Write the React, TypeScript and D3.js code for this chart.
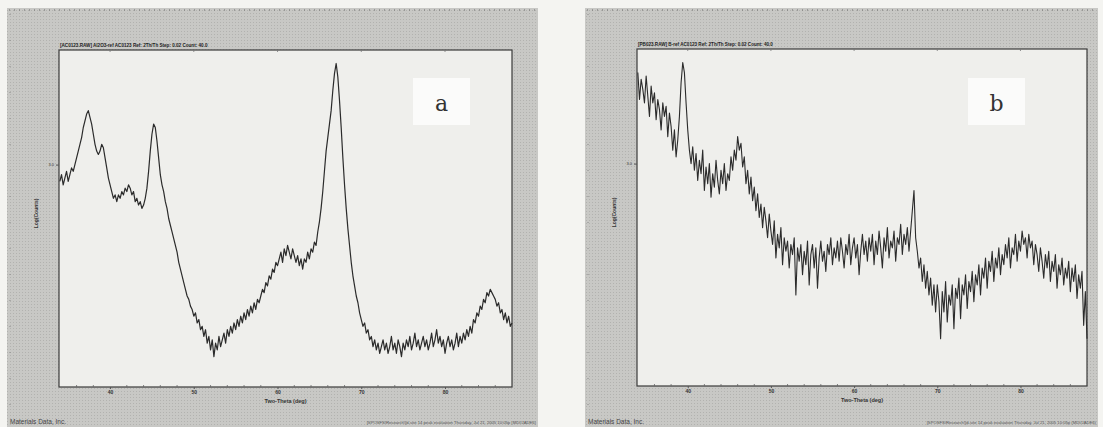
import * as d3 from "d3";
import { useEffect, useRef } from "react";

// scan grid (deg 2-theta)
const scanStart = 34.0;
const scanStep = 0.2;
const xTickValues = [40, 50, 60, 70, 80];
const xMinorTicks = [36, 38, 42, 44, 46, 48, 52, 54, 56, 58, 62, 64, 66, 68, 72, 74, 76, 78, 82, 84, 86];
const yTickValues = [66];
const yTickLabels = ["3.0"];

// sample a (relative log counts)
const countsA = [
  61, 63, 60, 62, 64, 61, 63, 65, 64, 66, 68, 70, 72, 74, 77, 79, 81, 82, 80, 78,
  75, 72, 70, 69, 70, 72, 71, 68, 65, 62, 60, 58, 56, 57, 55, 57, 56, 58, 57, 59,
  58, 60, 59, 57, 58, 55, 56, 54, 55, 53, 54, 56, 59, 64, 70, 75, 78, 77, 73, 68,
  63, 60, 58, 55, 53, 50, 48, 46, 44, 42, 40, 37, 35, 33, 31, 29, 27, 26, 24, 23,
  21, 22, 19, 20, 17, 18, 15, 17, 13, 15, 11, 14, 9, 13, 11, 15, 12, 14, 16, 13,
  17, 15, 18, 16, 19, 17, 20, 18, 21, 19, 22, 20, 23, 21, 24, 22, 25, 23, 26, 25,
  27, 29, 28, 31, 30, 33, 32, 35, 34, 37, 36, 38, 40, 37, 41, 39, 42, 40, 38, 41,
  39, 37, 39, 36, 38, 35, 38, 37, 40, 38, 41, 40, 43, 42, 46, 49, 53, 58, 64, 70,
  74, 78, 82, 88, 93, 96, 92, 85, 77, 68, 60, 53, 47, 42, 37, 33, 30, 27, 25, 22,
  20, 18, 19, 16, 17, 14, 15, 12, 14, 11, 13, 10, 12, 14, 11, 13, 10, 12, 15, 11,
  13, 10, 14, 12, 9, 13, 11, 14, 12, 15, 11, 13, 16, 12, 14, 11, 13, 15, 12, 14,
  11, 13, 16, 12, 14, 17, 13, 15, 12, 14, 10, 13, 15, 12, 14, 11, 13, 16, 12, 15,
  13, 16, 14, 17, 15, 18, 16, 20, 19, 22, 21, 24, 23, 26, 25, 28, 27, 29, 28, 27,
  26, 24, 25, 22, 23, 20, 22, 19, 21, 18, 19,
];

// sample b
const countsB = [
  93, 85, 91, 88, 84, 92, 86, 80, 89, 84, 87, 79, 85, 82, 76, 84, 80, 83, 74, 81,
  77, 70, 76, 68, 73, 80, 90, 96, 93, 84, 76, 70, 66, 71, 64, 69, 61, 67, 63, 70,
  58, 65, 60, 66, 56, 63, 59, 67, 61, 57, 64, 60, 66, 58, 63, 61, 68, 64, 70, 67,
  74, 70, 72, 65, 68, 60, 64, 57, 62, 55, 59, 52, 57, 50, 54, 47, 53, 49, 44, 51,
  46, 42, 49, 38, 45, 41, 47, 36, 44, 40, 43, 35, 42, 39, 44, 27, 41, 37, 42, 33,
  40, 36, 43, 30, 39, 42, 35, 41, 29, 38, 43, 37, 40, 34, 42, 39, 44, 36, 41, 38,
  43, 37, 44, 40, 35, 42, 39, 45, 36, 41, 44, 38, 42, 33, 40, 45, 39, 43, 37, 44,
  40, 45, 36, 43, 39, 46, 41, 35, 44, 40, 47, 38, 43, 41, 46, 37, 44, 42, 48, 39,
  45, 42, 47, 40, 46, 52, 58, 44, 40, 35, 38, 31, 36, 29, 34, 27, 32, 24, 30, 22,
  30, 25, 14, 28, 22, 31, 19, 27, 24, 30, 17, 29, 26, 32, 20, 30, 27, 33, 23, 31,
  28, 34, 25, 33, 30, 36, 27, 35, 32, 38, 29, 37, 34, 40, 31, 38, 35, 41, 33, 39,
  36, 42, 38, 44, 35, 41, 39, 45, 37, 43, 40, 46, 42, 44, 38, 45, 41, 43, 36, 42,
  39, 34, 41, 37, 32, 39, 35, 40, 31, 37, 34, 39, 29, 36, 33, 38, 30, 35, 32, 37,
  28, 35, 31, 36, 26, 33, 29, 34, 18, 28, 14,
];

const headerA = "[AC0123.RAW] Al2O3-ref AC0123 Ref: 2Th/Th Step: 0.02 Count: 40.0";
const headerB = "[PB023.RAW] B-ref AC0123 Ref: 2Th/Th Step: 0.02 Count: 40.0";
const footerRight = "[SPOSFS\\Research\\]d-site 14 peak evaluation  Thursday, Jul 21, 2005 10:05p (MDI/JADE6)";

export default function App() {
  const svgRef = useRef<SVGSVGElement>(null);

  useEffect(() => {
    if (!svgRef.current) return;
    const svg = d3.select(svgRef.current);
    svg.selectAll("*").remove();
    const W = 1103;
    const H = 427;

    svg.append("rect").attr("width", W).attr("height", H).attr("fill", "#f4f4f1");

    // halftone texture for the grey frame
    const defs = svg.append("defs");
    const pat = defs
      .append("pattern")
      .attr("id", "ht")
      .attr("width", 3)
      .attr("height", 3)
      .attr("patternUnits", "userSpaceOnUse");
    pat.append("rect").attr("width", 3).attr("height", 3).attr("fill", "#c8c8c5");
    pat.append("rect").attr("x", 1).attr("y", 1).attr("width", 1).attr("height", 1).attr("fill", "#b2b2af");

    function drawPanel(
      frame: { x0: number; x1: number },
      plot: { left: number; right: number; top: number; bottom: number },
      counts: number[],
      header: string,
      letter: string,
      box: { x: number; w: number },
      strokeW: number
    ) {
      const angles = d3.range(counts.length).map((i) => scanStart + i * scanStep);
      const g = svg.append("g");
      g.append("rect")
        .attr("x", frame.x0)
        .attr("y", 8)
        .attr("width", frame.x1 - frame.x0)
        .attr("height", H - 8)
        .attr("fill", "url(#ht)");

      // ruler dots along top and left edge
      g.append("line")
        .attr("x1", frame.x0 + 2)
        .attr("x2", frame.x1 - 2)
        .attr("y1", 10)
        .attr("y2", 10)
        .attr("stroke", "#6a6a6a")
        .attr("stroke-width", 1)
        .attr("stroke-dasharray", "1,4");
      g.append("line")
        .attr("x1", frame.x0 + 3)
        .attr("x2", frame.x0 + 3)
        .attr("y1", 14)
        .attr("y2", H - 10)
        .attr("stroke", "#8a8a8a")
        .attr("stroke-width", 1)
        .attr("stroke-dasharray", "1,25");

      const x = d3.scaleLinear().domain([33.9, 88]).range([plot.left, plot.right]);
      const y = d3.scaleLinear().domain([0, 100]).range([plot.bottom, plot.top]);

      g.append("rect")
        .attr("x", plot.left)
        .attr("y", plot.top)
        .attr("width", plot.right - plot.left)
        .attr("height", plot.bottom - plot.top)
        .attr("fill", "#efefec")
        .attr("stroke", "#3a3a3a")
        .attr("stroke-width", 1.2);

      // x axis
      const axisG = g
        .append("g")
        .attr("transform", `translate(0,${plot.bottom})`)
        .call(
          d3
            .axisBottom(x)
            .tickValues(xTickValues)
            .tickSize(2)
            .tickPadding(1)
            .tickFormat((d) => String(d))
        );
      axisG.select(".domain").remove();
      axisG.selectAll(".tick line").attr("stroke", "#555");
      axisG
        .selectAll(".tick text")
        .attr("fill", "#333")
        .attr("font-size", "5px")
        .attr("font-weight", "bold")
        .attr("font-family", "Arial, sans-serif");
      g.append("g")
        .selectAll("line")
        .data(xMinorTicks)
        .join("line")
        .attr("x1", (d) => x(d))
        .attr("x2", (d) => x(d))
        .attr("y1", plot.bottom)
        .attr("y2", plot.bottom - 2)
        .attr("stroke", "#666")
        .attr("stroke-width", 0.8);
      g.append("g")
        .selectAll("line")
        .data(xTickValues)
        .join("line")
        .attr("x1", (d) => x(d))
        .attr("x2", (d) => x(d))
        .attr("y1", plot.top)
        .attr("y2", plot.top + 2)
        .attr("stroke", "#777")
        .attr("stroke-width", 0.8);

      // y axis
      const yAxisG = g
        .append("g")
        .attr("transform", `translate(${plot.left},0)`)
        .call(
          d3
            .axisLeft(y)
            .tickValues(yTickValues)
            .tickSize(3)
            .tickPadding(2)
            .tickFormat((_, i) => yTickLabels[i])
        );
      yAxisG.select(".domain").remove();
      yAxisG.selectAll(".tick line").attr("stroke", "#555");
      yAxisG
        .selectAll(".tick text")
        .attr("fill", "#333")
        .attr("font-size", "4px")
        .attr("font-family", "Arial, sans-serif");

      // pattern
      const line = d3
        .line<number>()
        .x((_, i) => x(angles[i]))
        .y((d) => y(d));
      g.append("path")
        .datum(counts)
        .attr("d", line)
        .attr("fill", "none")
        .attr("stroke", "#2b2b2b")
        .attr("stroke-width", strokeW)
        .attr("stroke-linejoin", "round");

      // header
      g.append("text")
        .attr("x", plot.left + 1)
        .attr("y", plot.top - 3)
        .attr("font-size", "4.6px")
        .attr("font-weight", "bold")
        .attr("font-family", "Arial, sans-serif")
        .attr("fill", "#222")
        .text(header);

      // axis titles
      g.append("text")
        .attr("x", (plot.left + plot.right) / 2)
        .attr("y", plot.bottom + 16)
        .attr("text-anchor", "middle")
        .attr("font-size", "5.5px")
        .attr("font-weight", "bold")
        .attr("font-family", "Arial, sans-serif")
        .attr("fill", "#333")
        .text("Two-Theta (deg)");
      g.append("text")
        .attr("transform", `translate(${plot.left - 21},${(plot.top + plot.bottom) / 2 - 5}) rotate(-90)`)
        .attr("text-anchor", "middle")
        .attr("font-size", "5px")
        .attr("font-weight", "bold")
        .attr("font-family", "Arial, sans-serif")
        .attr("fill", "#333")
        .text("Log(Counts)");

      // footer
      g.append("text")
        .attr("x", frame.x0 + 3)
        .attr("y", 424)
        .attr("font-size", "6.5px")
        .attr("font-family", "Arial, sans-serif")
        .attr("fill", "#444")
        .text("Materials Data, Inc.");
      g.append("text")
        .attr("x", frame.x1 - 2)
        .attr("y", 424)
        .attr("text-anchor", "end")
        .attr("font-size", "4.2px")
        .attr("font-family", "Arial, sans-serif")
        .attr("fill", "#555")
        .text(footerRight);

      // panel letter
      g.append("rect")
        .attr("x", box.x)
        .attr("y", 78)
        .attr("width", box.w)
        .attr("height", 47)
        .attr("fill", "#fbfbfa");
      g.append("text")
        .attr("x", box.x + box.w / 2)
        .attr("y", 111)
        .attr("text-anchor", "middle")
        .attr("font-size", "22px")
        .attr("font-family", "'DejaVu Serif', 'Liberation Serif', serif")
        .attr("fill", "#333")
        .text(letter);
    }

    drawPanel(
      { x0: 7, x1: 538 },
      { left: 59, right: 512, top: 50, bottom: 387 },
      countsA,
      headerA,
      "a",
      { x: 413, w: 57 },
      1.2
    );
    drawPanel(
      { x0: 585, x1: 1098 },
      { left: 637, right: 1087, top: 49, bottom: 386 },
      countsB,
      headerB,
      "b",
      { x: 968, w: 57 },
      1.1
    );
  }, []);

  return (
    <svg
      ref={svgRef}
      width={1103}
      height={427}
      style={{ position: "absolute", left: 0, top: 0 }}
    ></svg>
  );
}
